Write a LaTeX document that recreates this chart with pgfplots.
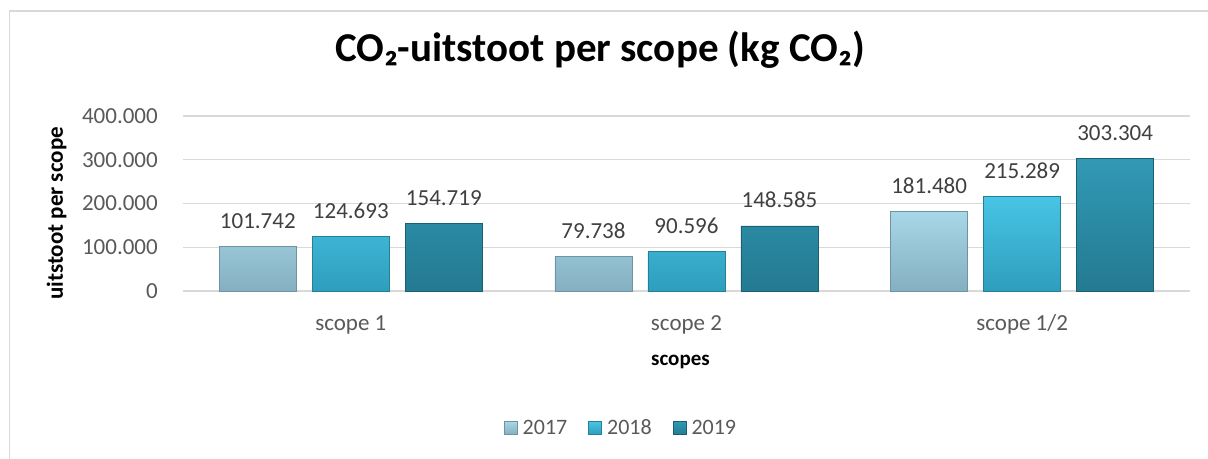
\documentclass[border=0pt]{standalone}
\usepackage{pgfplots}
\pgfplotsset{compat=1.18}
\usepackage{fontspec}
\setmainfont{Carlito}
\definecolor{gridc}{HTML}{D9D9D9}
\definecolor{tickc}{HTML}{595959}
\definecolor{labc}{HTML}{404040}
\definecolor{aT}{HTML}{A8D7E8}
\definecolor{aB}{HTML}{84AFC0}
\definecolor{aD}{HTML}{6E93A1}
\definecolor{bT}{HTML}{48C4E4}
\definecolor{bB}{HTML}{2E9EBD}
\definecolor{bD}{HTML}{247F98}
\definecolor{cT}{HTML}{3299B5}
\definecolor{cB}{HTML}{237A91}
\definecolor{cD}{HTML}{1B5F72}
\begin{document}
\begin{tikzpicture}
\useasboundingbox (-183bp,-168bp) rectangle (1025bp,291bp);
\draw[gridc, line width=1.3bp] (-173.5bp,-168bp) -- (-173.5bp,280bp) -- (1025bp,280bp);
\begin{axis}[
  scale only axis,
  width=1007bp, height=175bp,
  xmin=-0.5, xmax=2.5,
  ymin=0, ymax=400000,
  ytick={0,100000,200000,300000,400000},
  scaled y ticks=false,
  xtick={0,1,2},
  xticklabels={scope 1, scope 2, scope 1/2},
  ybar=16bp, bar width=77bp,
  axis line style={draw=none},
  axis x line*=bottom,
  x axis line style={draw=gridc, line width=1.3bp},
  ymajorgrids, grid style={gridc, line width=1.3bp},
  major tick length=0pt,
  /pgf/number format/.cd, fixed, precision=0, 1000 sep={.}, assume math mode=true,
  /pgfplots/.cd,
  tick label style={font=\fontsize{23bp}{27bp}\selectfont, text=tickc},
  yticklabel style={anchor=east, inner sep=0pt, xshift=-25bp},
  xticklabel style={anchor=base, inner sep=0pt, yshift=-39bp},
  xlabel={\textbf{scopes}},
  xlabel style={at={(rel axis cs:0.494,0)}, anchor=base, yshift=-74bp, font=\fontsize{21bp}{25bp}\selectfont},
  ylabel={\textbf{uitstoot per scope}},
  ylabel style={at={(rel axis cs:-0.1192,0.443)}, anchor=base, rotate=0, font=\fontsize{23bp}{27bp}\selectfont},
  title={\textbf{CO₂-uitstoot per scope (kg CO₂)}},
  title style={at={(rel axis cs:0.414,1)}, anchor=base, yshift=49bp, font=\fontsize{41bp}{48bp}\selectfont, inner sep=0pt},
  nodes near coords,
  every node near coord/.append style={font=\fontsize{23bp}{27bp}\selectfont, text=labc, inner sep=0pt, anchor=base, yshift=18bp},
  legend columns=3,
  legend style={at={(rel axis cs:0.434,-0.783)}, anchor=center, draw=none, fill=none, inner sep=0pt,
    font=\fontsize{22bp}{26bp}\selectfont, text=tickc,
    /tikz/every odd column/.append style={column sep=5bp},
    /tikz/every even column/.append style={column sep=21bp},
    nodes={inner sep=0pt}},
  legend image code/.code={\draw[#1, line width=0.8bp] (0bp,-6.5bp) rectangle (13bp,6.5bp);},
]
\addplot[top color=aT, bottom color=aB, draw=aD, line width=0.8bp] coordinates {(0,101742) (1,79738) (2,181480)};
\addplot[top color=bT, bottom color=bB, draw=bD, line width=0.8bp] coordinates {(0,124693) (1,90596) (2,215289)};
\addplot[top color=cT, bottom color=cB, draw=cD, line width=0.8bp] coordinates {(0,154719) (1,148585) (2,303304)};
\legend{2017,2018,2019}
\end{axis}
\end{tikzpicture}
\end{document}
